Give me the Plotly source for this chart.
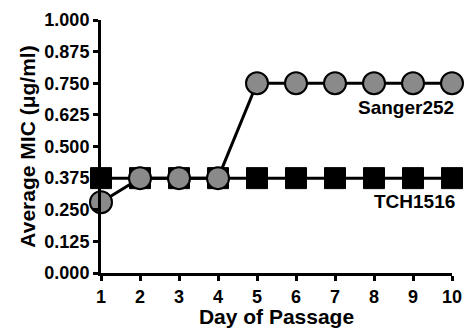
import plotly.graph_objects as go

days = [1, 2, 3, 4, 5, 6, 7, 8, 9, 10]
tch1516 = [0.375, 0.375, 0.375, 0.375, 0.375, 0.375, 0.375, 0.375, 0.375, 0.375]
sanger252 = [0.28, 0.375, 0.375, 0.375, 0.75, 0.75, 0.75, 0.75, 0.75, 0.75]
y_ticks = [0.0, 0.125, 0.25, 0.375, 0.5, 0.625, 0.75, 0.875, 1.0]
y_tick_labels = ["0.000", "0.125", "0.250", "0.375", "0.500", "0.625", "0.750", "0.875", "1.000"]

FONT = "Arial, Liberation Sans, sans-serif"

fig = go.Figure()
fig.add_trace(go.Scatter(
    x=days, y=tch1516, mode="lines+markers", name="TCH1516",
    line=dict(color="black", width=3),
    marker=dict(symbol="square", size=21, color="black", line=dict(color="black", width=1)),
    cliponaxis=False,
))
fig.add_trace(go.Scatter(
    x=days, y=sanger252, mode="lines+markers", name="Sanger252",
    line=dict(color="black", width=3),
    marker=dict(symbol="circle", size=22, color="#8a8a8a", line=dict(color="black", width=2)),
    cliponaxis=False,
))

fig.add_annotation(x=10, y=0.75, text="<b>Sanger252</b>", showarrow=False,
                   xanchor="right", yanchor="top", xshift=4, yshift=-12,
                   font=dict(family=FONT, size=19, color="black"))
fig.add_annotation(x=10, y=0.375, text="<b>TCH1516</b>", showarrow=False,
                   xanchor="right", yanchor="top", xshift=5, yshift=-11,
                   font=dict(family=FONT, size=19, color="black"))

fig.update_layout(
    width=465, height=328,
    margin=dict(l=101, r=13, t=20, b=55),
    paper_bgcolor="white", plot_bgcolor="white",
    showlegend=False,
    font=dict(family=FONT, color="black"),
)
fig.update_xaxes(
    range=[1, 10], tickvals=days, ticktext=[f"<b>{d}</b>" for d in days],
    automargin=False,
    showgrid=False, zeroline=False, showline=True, linecolor="black", linewidth=3,
    ticks="outside", ticklen=5, tickwidth=3, tickcolor="black",
    tickfont=dict(family=FONT, size=18, color="black"),
    title=dict(text="<b>Day of Passage</b>", font=dict(family=FONT, size=21, color="black"), standoff=0),
)
fig.update_yaxes(
    range=[0, 1], tickvals=y_ticks, ticktext=[f"<b>{t}</b>" for t in y_tick_labels],
    automargin=False,
    showgrid=False, zeroline=False, showline=True, linecolor="black", linewidth=3,
    ticks="outside", ticklen=5, tickwidth=3, tickcolor="black",
    tickfont=dict(family=FONT, size=18, color="black"),
    title=dict(text="<b>Average MIC (μg/ml)</b>", font=dict(family=FONT, size=21, color="black"), standoff=4),
)

# remove the default page margin so the figure fills the window exactly; hide the modebar
fig.write_html("out.html",
               config={"displayModeBar": False},
               post_script="document.body.style.margin='0';document.body.style.overflow='hidden';")
